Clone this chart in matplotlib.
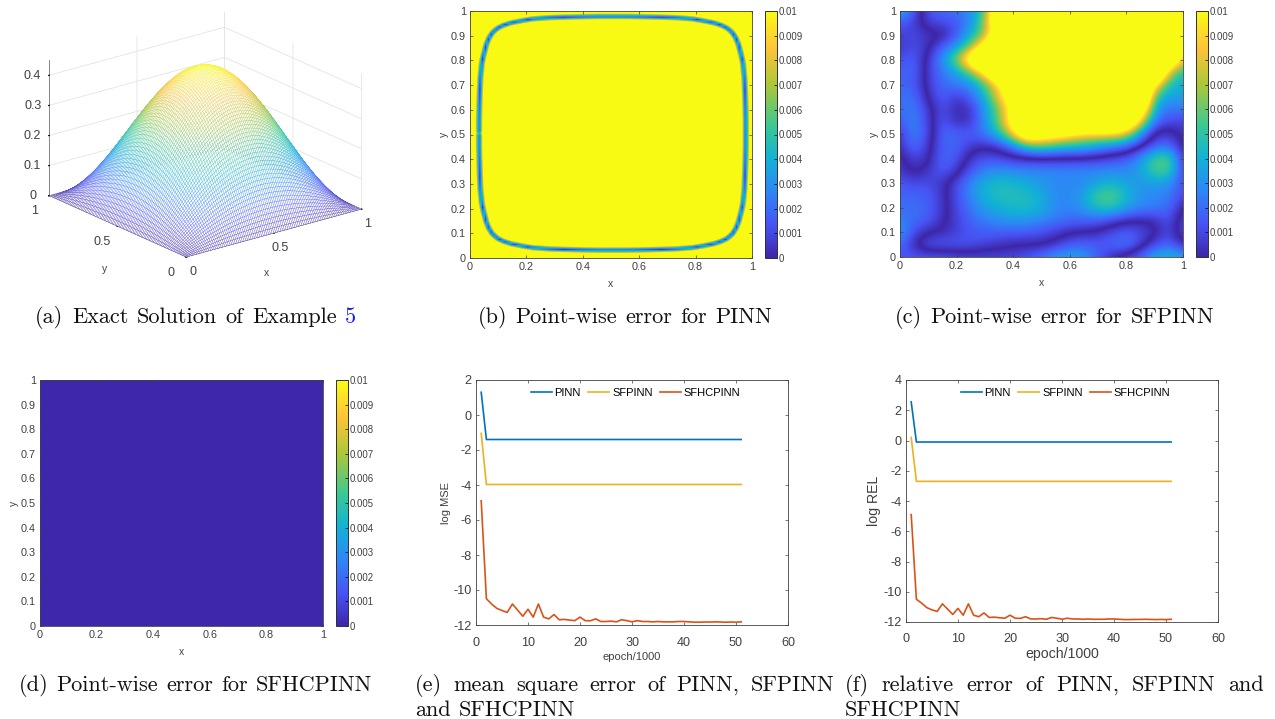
import numpy as np
import matplotlib
matplotlib.use('Agg')
import matplotlib.pyplot as plt
from matplotlib.colors import LinearSegmentedColormap, Normalize
from matplotlib.cm import ScalarMappable

plt.rcParams['font.family'] = ['Liberation Sans', 'DejaVu Sans']
plt.rcParams['axes.unicode_minus'] = False

W, H = 1275, 719
GREY = '#404040'

# parula-like map
parula = LinearSegmentedColormap.from_list('parula', [
    (0.00, (0.2422, 0.1504, 0.6603)), (0.13, (0.2810, 0.3228, 0.9579)),
    (0.27, (0.1786, 0.5289, 0.9682)), (0.40, (0.0689, 0.6948, 0.8394)),
    (0.53, (0.2161, 0.7843, 0.5923)), (0.70, (0.6720, 0.7793, 0.2227)),
    (0.85, (0.9970, 0.7659, 0.2199)), (1.00, (0.9769, 0.9839, 0.0805))])

# (a) height profile along one side, 0 to the middle
half_profile = [0, .031, .063, .094, .125, .156, .187, .218, .249, .279, .309, .339, .368,
                .397, .426, .454, .482, .509, .536, .562, .588, .613, .637, .661, .685, .707,
                .729, .750, .771, .790, .809, .827, .844, .861, .876, .891, .905, .918, .930,
                .941, .951, .960, .969, .976, .982, .988, .992, .996, .998, .999, 1]
peak = 0.45

# (b) the ring where the PINN error goes to zero, one quarter, lower left
ring_x = [.032, .032, .033, .035, .037, .042, .050, .058, .068, .080, .097, .118, .145, .180, .220, .280, .330, .400, .450, .500]
ring_y = [.500, .450, .400, .330, .280, .220, .180, .145, .118, .097, .080, .068, .058, .050, .042, .037, .035, .033, .032, .032]
ring_far_x = 1.01
ring_far_y = 1.01

# (c) signed error, 1e-3, rows y=1 to y=0, columns x=0 to x=1, step 0.05
sfpinn_err = np.array([
 [-4.5,-1.5,1.5,2,2.2,3,5,16,20,20,20,20,20,20,20,20,20,20,20,20,8],
 [-1.5,-.8,.8,1.2,1.4,2.8,6.5,15,20,20,20,20,20,20,20,20,20,20,20,20,9.5],
 [-.8,-1,-.5,-.4,1.5,4,6.5,13,20,20,20,20,20,20,20,20,20,20,20,20,10],
 [-.4,-1.2,-.3,1.8,3.2,6,12,20,20,20,20,20,20,20,20,20,20,20,20,20,9.5],
 [-1.2,-1.8,.5,3,6.5,13,20,20,20,20,20,20,20,20,20,20,20,20,20,16,8],
 [-1.6,-2,.8,2.3,3.5,6,10,18,20,20,20,20,20,20,20,20,20,20,20,7.5,4.5],
 [-1.8,-1.6,.6,2,2.5,3,5.5,9.5,15,20,20,20,20,20,20,20,20,20,10,4.5,4],
 [-2,-2.2,.3,1.8,.5,1.8,4,8.5,13,20,20,20,20,20,20,20,20,20,5,3.5,3.5],
 [-2,-2.5,-.6,1.4,0,.4,3.2,6.3,11,20,20,20,20,20,20,20,20,14,3.5,2.2,2.5],
 [-1.5,-2.8,-.8,1.6,.1,.5,3,6,12,20,20,20,20,20,20,20,16,9,2,1.2,.8],
 [-.4,-2.8,-1,2,1.8,1.5,2.5,4.5,8.5,15,13,12,10.5,9,9,9,8,3,-.3,-.7,.5],
 [-.2,-2.3,-.5,1.8,1.8,.7,.2,.7,2.5,5,6,5,4.5,4.5,3.5,2.8,1.8,.3,-1.5,-2,.3],
 [.5,-1,-.3,2,1.5,-.6,-1.2,-1,-.5,-.2,-.05,-.1,-.1,-.2,-.5,-1,-1.5,-3,-5.5,-6,-.2],
 [.6,-.3,.4,1.8,.6,-1.4,-2.6,-3,-2.8,-2.8,-2.8,-2.8,-2.8,-2.8,-2.8,-2.8,-2.8,-3.5,-5.5,-5.8,-.5],
 [1.5,1,1.2,.4,-1,-2.8,-4,-4.5,-4.3,-3.8,-3.2,-2.8,-2.6,-2.8,-3.6,-4.2,-3.6,-3.2,-3.4,-3.2,-1],
 [1.8,1.8,1.6,.5,-1.2,-2.8,-4.2,-4.6,-4.6,-4.5,-3.8,-2.8,-2.8,-3.6,-5.5,-5.8,-4.2,-3,-2.8,-2.5,-1],
 [2,2,1.8,.5,-1,-2.3,-3.5,-4,-4.4,-4.5,-4,-2.8,-2.6,-3.3,-4.8,-5,-3.6,-2.8,-2.5,-2,.2],
 [2.5,2,1.6,.3,-.8,-1.8,-2.5,-3,-3.3,-3.2,-2.8,-2.3,-2,-1.8,-1.7,-1,-.2,-.1,-.2,-1.5,1],
 [3.5,1,.1,-.2,-.8,-1.4,-1.6,-1.6,-1.6,-1.5,-1.2,-.7,-.1,.1,.3,1.2,1.6,1.2,.3,-1.2,1.2],
 [2,.1,-1.5,-1.5,-1.5,-1.3,-.8,-.5,-.1,-.1,-.1,.5,1.5,1.8,1.6,1.8,2.5,.8,-1,-1.8,-.2],
 [1.5,1.5,1.5,1.5,1.2,1,1,1,1,1.5,2.3,3.4,3.8,3.4,1.5,.2,-1,-2,-4,-4.6,-3.5]])

# (d) error stays flat at the bottom of the scale
sfhcpinn_err = [[0.00005, 0.00005], [0.00005, 0.00005]]

# (e), (f) training curves
epochs = list(range(1, 52))
mse_pinn = [1.3] + [-1.4] * 50
mse_sfpinn = [-1.05] + [-3.97] * 50
mse_sfhcpinn = [-4.9, -10.5, -10.8, -11.05, -11.17, -11.28, -10.8, -11.15, -11.5, -11.1,
                -11.55, -10.8, -11.55, -11.65, -11.4, -11.7, -11.68, -11.72, -11.75, -11.55,
                -11.75, -11.76, -11.65, -11.8, -11.8, -11.78, -11.82, -11.7, -11.75, -11.82,
                -11.75, -11.8, -11.8, -11.82, -11.8, -11.82, -11.82, -11.82, -11.8, -11.8,
                -11.82, -11.84, -11.84, -11.83, -11.83, -11.82, -11.83, -11.84, -11.83, -11.84, -11.82]
rel_pinn = [2.55] + [-0.1] * 50
rel_sfpinn = [0.2] + [-2.7] * 50
rel_sfhcpinn = [-4.9, -10.5, -10.75, -11.05, -11.2, -11.3, -10.8, -11.15, -11.5, -11.1,
                -11.55, -10.8, -11.55, -11.65, -11.4, -11.7, -11.68, -11.72, -11.75, -11.55,
                -11.75, -11.76, -11.65, -11.8, -11.8, -11.78, -11.82, -11.7, -11.75, -11.82,
                -11.75, -11.8, -11.8, -11.82, -11.8, -11.82, -11.82, -11.82, -11.8, -11.8,
                -11.82, -11.84, -11.84, -11.83, -11.83, -11.82, -11.83, -11.84, -11.83, -11.84, -11.82]
series_names = ['PINN', 'SFPINN', 'SFHCPINN']
series_colors = ['#0072BD', '#EDB120', '#D95319']

cbar_ticks = [i / 1000 for i in range(11)]
cbar_labels = ['0', '0.001', '0.002', '0.003', '0.004', '0.005', '0.006', '0.007', '0.008', '0.009', '0.01']
map_ticks = [i / 10 for i in range(11)]
map_ylabels = ['0', '0.1', '0.2', '0.3', '0.4', '0.5', '0.6', '0.7', '0.8', '0.9', '1']
map_xticks = [0, .2, .4, .6, .8, 1]
map_xlabels = ['0', '0.2', '0.4', '0.6', '0.8', '1']


def axes_px(fig, x0, y0, x1, y1, **kw):
    return fig.add_axes([x0 / W, 1 - y1 / H, (x1 - x0) / W, (y1 - y0) / H], **kw)


def style_box(ax, size):
    for s in ax.spines.values():
        s.set_linewidth(0.6)
        s.set_color('#404040')
    ax.tick_params(direction='in', length=2.5, width=0.5, top=True, right=True,
                   labelsize=size, labelcolor=GREY, color='#404040', pad=3)


class AbsNorm(Normalize):
    # signed table values, the colour follows the size of the error
    def __call__(self, value, clip=None):
        return np.ma.clip(np.ma.abs(np.ma.asarray(value, dtype=float)) / 0.01, 0, 1)


def error_map(fig, box, cbar_x, field, **kw):
    ax = axes_px(fig, *box)
    ax.imshow(field, cmap=parula, aspect='auto', **kw)
    ax.set_xlim(0, 1)
    ax.set_ylim(0, 1)
    ax.set_xticks(map_xticks, map_xlabels)
    ax.set_yticks(map_ticks, map_ylabels)
    style_box(ax, 7.8)
    ax.set_xlabel('x', fontsize=7.5, color=GREY, labelpad=5)
    ax.set_ylabel('y', fontsize=7.5, color=GREY, labelpad=1)
    cax = axes_px(fig, cbar_x, box[1], cbar_x + 11.5, box[3])
    cb = fig.colorbar(ScalarMappable(Normalize(0, 0.01), parula), cax=cax)
    cb.set_ticks(cbar_ticks, labels=cbar_labels)
    cb.ax.tick_params(direction='in', length=2, width=0.5, labelsize=6.9, labelcolor=GREY, pad=1.5)
    cb.outline.set_linewidth(0.7)
    cb.outline.set_edgecolor('#303030')
    return ax


def curves(fig, box, ys, ylim, yticks, ylabel, size, xpad):
    ax = axes_px(fig, *box)
    for y, name, c in zip(ys, series_names, series_colors):
        ax.plot(epochs, y, color=c, lw=1.2, label=name)
    ax.set_xlim(0, 60)
    ax.set_ylim(*ylim)
    ax.set_xticks(range(0, 61, 10))
    ax.set_yticks(yticks)
    style_box(ax, 9.1)
    ax.tick_params(axis='x', pad=xpad)
    ax.set_xlabel('epoch/1000', fontsize=size, color=GREY, labelpad=1.5)
    ax.set_ylabel(ylabel, fontsize=size, color=GREY, labelpad=2)
    ax.legend(loc='center', bbox_to_anchor=(.511, .947), ncol=3, frameon=False, fontsize=8,
              handlelength=1.9, handletextpad=.25, columnspacing=.65, borderpad=0, borderaxespad=0)
    return ax


def caption(fig, words, x0, x1, y, size=16):
    # justified line, words spread between x0 and x1
    r = fig.canvas.get_renderer()
    items = [fig.text(x0 / W, 1 - y / H, w, family='cmr10', fontsize=size, color='#111111') for w in words]
    widths = [t.get_window_extent(r).width for t in items]
    gap = (x1 - x0 - sum(widths)) / max(len(words) - 1, 1)
    x = x0
    for t, w in zip(items, widths):
        t.set_x(x / W)
        x += w + gap
    return items


fig = plt.figure(figsize=(W / 100, H / 100), dpi=100)

# (a) mesh
ax3 = axes_px(fig, 0, -60, 400, 340, projection='3d', proj_type='ortho', computed_zorder=True)
ax3.patch.set_alpha(0)
profile = np.array(half_profile + half_profile[-2::-1])
grid = np.linspace(0, 1, len(profile))
X, Y = np.meshgrid(grid, grid)
Z = peak * np.outer(profile, profile)
surf = ax3.plot_surface(X, Y, Z, rstride=1, cstride=1, color='white', shade=False,
                        linewidth=0.2, antialiased=True)
mid = (Z[:-1, :-1] + Z[1:, 1:] + Z[:-1, 1:] + Z[1:, :-1]) / 4 / peak
surf.set_edgecolor(parula(mid.ravel()))
surf.set_facecolor('white')
ax3.view_init(elev=20.5, azim=232)
ax3.set_box_aspect((1, 1, 0.65), zoom=0.84)
ax3.set_xlim(0, 1)
ax3.set_ylim(0, 1)
ax3.set_zlim(0, 0.45)
ax3.set_xticks([0, .5, 1], ['0', '0.5', '1'])
ax3.set_yticks([0, .5, 1], ['0', '0.5', '1'])
ax3.set_zticks([0, .1, .2, .3, .4], ['0', '0.1', '0.2', '0.3', '0.4'])
ax3.tick_params(labelsize=9, labelcolor=GREY, pad=0)
ax3.tick_params(axis='x', pad=-1)
ax3.tick_params(axis='y', pad=5)
for lab in ax3.get_zticklabels():
    lab.set_va('center_baseline')
for lab in ax3.get_yticklabels():
    lab.set_va('center')
for axis in (ax3.xaxis, ax3.yaxis, ax3.zaxis):
    axis.set_pane_color((1, 1, 1, 0))
    axis.line.set_linewidth(0.5)
    axis.line.set_color('#606060')
    axis._axinfo['grid'].update(color='#e4e4e4', linewidth=0.6)
    axis._axinfo['tick'].update(inward_factor=0.05, outward_factor=0.0)
fig.text(267 / W, 1 - 273 / H, 'x', fontsize=7.5, color=GREY, ha='center', va='center')
fig.text(105 / W, 1 - 269 / H, 'y', fontsize=7.5, color=GREY, ha='center', va='center')

# (b) ring field: distance to the ring
xq = np.array(ring_x)
yq = np.array(ring_y)
rx = np.r_[xq, ring_far_x - xq[-2::-1], (ring_far_x - xq)[1:], xq[-2::-1]]
ry = np.r_[yq, yq[-2::-1], (ring_far_y - yq)[1:], (ring_far_y - yq)[-2::-1]]
cells = (np.arange(100) + .5) / 100
gx, gy = np.meshgrid(cells, cells)
ax_, ay_ = rx[:-1], ry[:-1]
dx, dy = np.diff(rx), np.diff(ry)
keep = dx ** 2 + dy ** 2 > 0
ax_, ay_, dx, dy = ax_[keep], ay_[keep], dx[keep], dy[keep]
t = ((gx[..., None] - ax_) * dx + (gy[..., None] - ay_) * dy) / (dx ** 2 + dy ** 2)
t = np.clip(t, 0, 1)
dist = np.hypot(gx[..., None] - ax_ - t * dx, gy[..., None] - ay_ - t * dy).min(axis=-1)
error_map(fig, (470, 11, 752, 258), 765, dist * 0.01 / 0.013, norm=Normalize(0, 0.01),
          origin='lower', extent=(0, 1, 0, 1), interpolation='bilinear',
          interpolation_stage='data')

# (c)
error_map(fig, (900, 11, 1183, 257), 1196, sfpinn_err / 1000, norm=AbsNorm(-0.02, 0.02),
          origin='upper', extent=(-.025, 1.025, -.025, 1.025), interpolation='bicubic',
          interpolation_stage='data')

# (d)
error_map(fig, (40, 380, 323, 626), 336, sfhcpinn_err, norm=Normalize(0, 0.01),
          origin='lower', extent=(0, 1, 0, 1), interpolation='nearest')

# (e), (f)
curves(fig, (476, 380, 788, 625), [mse_pinn, mse_sfpinn, mse_sfhcpinn], (-12, 2),
       range(-12, 3, 2), 'log MSE', 8, 9)
curves(fig, (906, 380, 1218, 622), [rel_pinn, rel_sfpinn, rel_sfhcpinn], (-12, 4),
       range(-12, 5, 2), 'log REL', 10.2, 8)

fig.canvas.draw()
caption(fig, ['(a)', 'Exact', 'Solution', 'of', 'Example'], 35, 337, 323)
fig.text(345 / W, 1 - 323 / H, '5', family='cmr10', fontsize=16, color='#1a1aee')
caption(fig, ['(b)', 'Point-wise', 'error', 'for', 'PINN'], 478, 772, 323)
caption(fig, ['(c)', 'Point-wise', 'error', 'for', 'SFPINN'], 895, 1214, 323)
caption(fig, ['(d)', 'Point-wise', 'error', 'for', 'SFHCPINN'], 19, 372, 691)
caption(fig, ['(e)', 'mean', 'square', 'error', 'of', 'PINN,', 'SFPINN'], 415, 834, 691)
caption(fig, ['and', 'SFHCPINN'], 415, 575, 716)
caption(fig, ['(f)', 'relative', 'error', 'of', 'PINN,', 'SFPINN', 'and'], 845, 1264, 691)
caption(fig, ['SFHCPINN'], 845, 961, 716)

fig.savefig('out.png', dpi=100)
